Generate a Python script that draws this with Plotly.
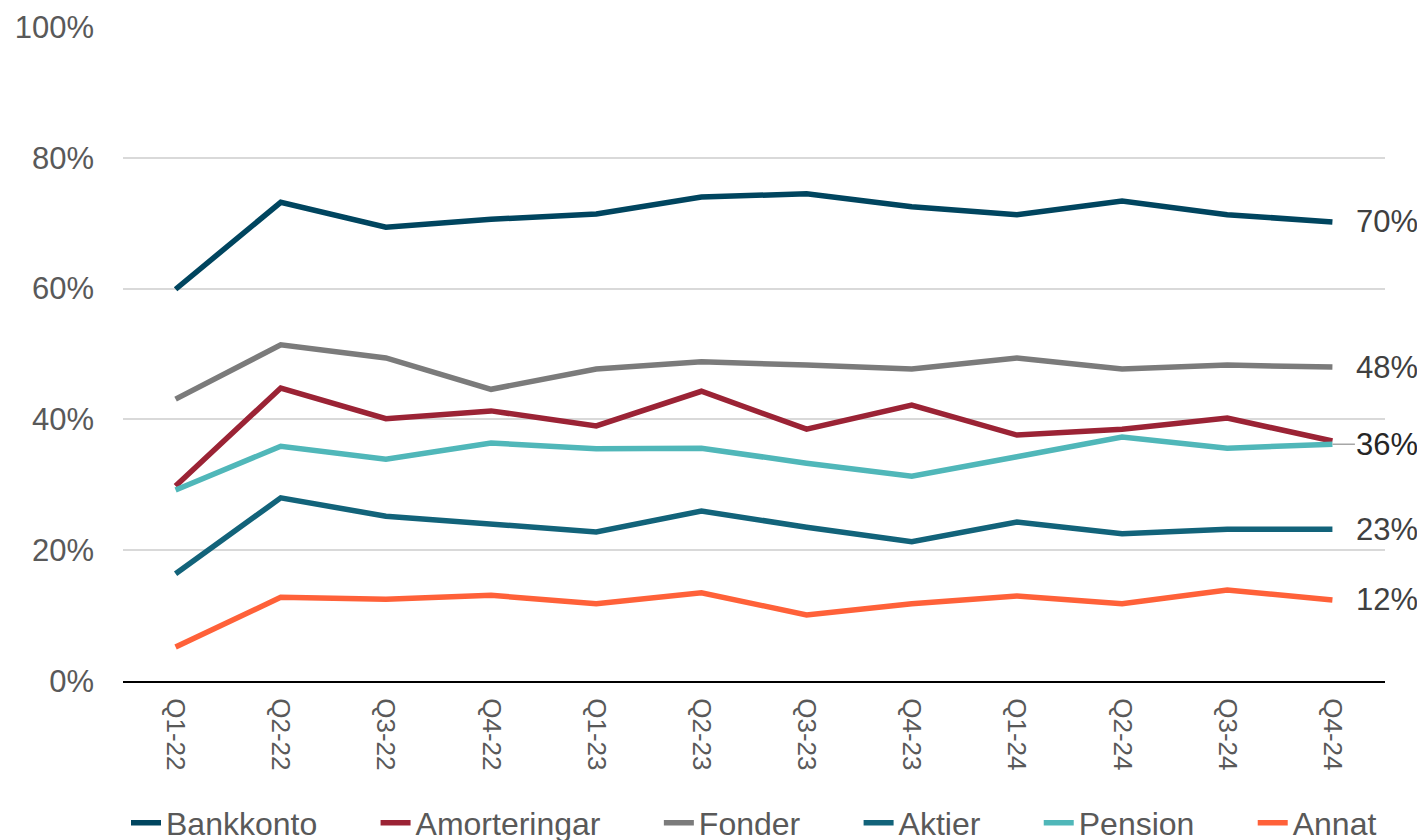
import plotly.graph_objects as go

# ── Data (share of respondents, %) ────────────────────────────────────────────
quarters = ["Q1-22", "Q2-22", "Q3-22", "Q4-22", "Q1-23", "Q2-23",
            "Q3-23", "Q4-23", "Q1-24", "Q2-24", "Q3-24", "Q4-24"]

bankkonto = [59.9, 73.2, 69.4, 70.6, 71.4, 74.0, 74.5, 72.5, 71.3, 73.4, 71.3, 70.2]
amorteringar = [29.8, 44.8, 40.1, 41.3, 39.0, 44.3, 38.5, 42.2, 37.6, 38.5, 40.2, 36.7]
fonder = [43.1, 51.4, 49.4, 44.6, 47.7, 48.8, 48.3, 47.7, 49.4, 47.7, 48.3, 48.0]
aktier = [16.4, 28.0, 25.2, 23.9, 22.8, 26.0, 23.5, 21.3, 24.3, 22.5, 23.2, 23.2]
pension = [29.2, 35.9, 33.9, 36.4, 35.5, 35.6, 33.3, 31.3, 34.3, 37.3, 35.6, 36.2]
annat = [5.2, 12.8, 12.5, 13.1, 11.8, 13.5, 10.1, 11.8, 13.0, 11.8, 13.9, 12.4]

series = [
    ("Bankkonto", bankkonto, "#00455f"),
    ("Amorteringar", amorteringar, "#9b2335"),
    ("Fonder", fonder, "#7b7b7b"),
    ("Aktier", aktier, "#12637a"),
    ("Pension", pension, "#50b7b9"),
    ("Annat", annat, "#ff6139"),
]

# series that get an end label (Amorteringar/Pension share one label)
labelled = ["Bankkonto", "Fonder", "Aktier", "Annat"]
shared_label = "Pension"

FONT = "Liberation Sans, Arial, sans-serif"
PAD = "\u00a0" * 6  # extra room between legend entries

fig = go.Figure()
for i, (name, vals, color) in enumerate(series):
    shown = name if i == len(series) - 1 else name + PAD
    fig.add_trace(go.Scatter(
        x=quarters, y=vals, name=shown, mode="lines",
        line=dict(color=color, width=5.5),
    ))

# ── End-of-line value labels ─────────────────────────────────────────────────
for name, vals, color in series:
    if name in labelled:
        fig.add_annotation(
            x=quarters[-1], y=vals[-1], text=f"{vals[-1]:.0f}%",
            showarrow=False, xanchor="left", yanchor="middle", xshift=22,
            font=dict(size=31, color="#404040", family=FONT),
        )
    elif name == shared_label:
        fig.add_annotation(
            x=quarters[-1], y=vals[-1], text=f"{vals[-1]:.0f}%",
            showarrow=True, arrowhead=0, arrowwidth=1.5, arrowcolor="#a6a6a6",
            ax=55, ay=0,
            font=dict(size=31, color="#262626", family=FONT),
        )

# page body adds an 8px offset, so margins are shifted to compensate
fig.update_layout(
    width=1425, height=840,
    margin=dict(l=115, r=48, t=19, b=167, autoexpand=False),
    plot_bgcolor="white", paper_bgcolor="white",
    font=dict(family=FONT, color="#595959"),
    showlegend=True,
    legend=dict(
        orientation="h", x=0.5, xanchor="center", y=-0.217, yanchor="middle",
        font=dict(size=32, color="#595959"),
    ),
    xaxis=dict(
        range=[-0.5, len(quarters) - 0.5], automargin=False,
        showgrid=False, showline=True, linecolor="#000000", linewidth=2,
        tickangle=90, tickfont=dict(size=26, color="#595959"),
        ticklabelstandoff=10,
    ),
    yaxis=dict(
        range=[0, 100], dtick=20, ticksuffix="%", automargin=False,
        showgrid=True, gridcolor="#d9d9d9", gridwidth=1.5,
        zeroline=False, showline=False,
        tickfont=dict(size=31, color="#595959"),
        ticklabelstandoff=28,
    ),
)

fig.write_html("out.html")
